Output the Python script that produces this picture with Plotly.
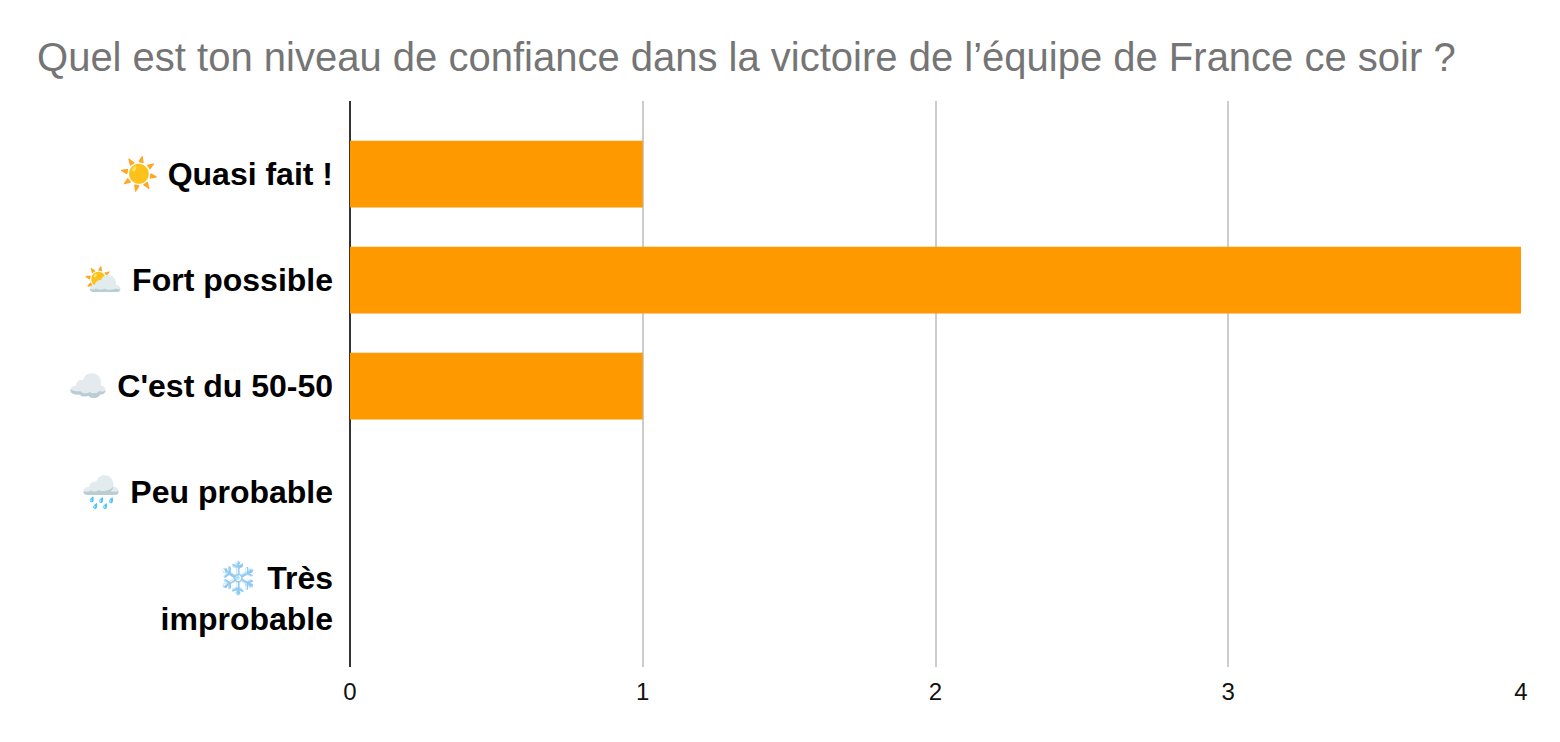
import plotly.graph_objects as go

# Réponses au sondage
categories = ["☀️ Quasi fait !", "⛅ Fort possible", "☁️ C'est du 50-50",
              "🌧️ Peu probable", "❄️ Très<br>improbable"]
votes = [1, 4, 1, 0, 0]
x_ticks = [0, 1, 2, 3, 4]

title = "Quel est ton niveau de confiance dans la victoire de l’équipe de France ce soir ?"

trace = go.Bar(x=votes, y=categories, orientation='h',
               marker=dict(color='#ff9900', line=dict(width=0)),
               hoverinfo='x+y')

# la page a une marge de 8px, on en tient compte dans les marges
layout = go.Layout(
    title=dict(text=title, x=0.0186, xref='container', xanchor='left',
               y=0.934, yref='container', yanchor='middle',
               font=dict(family='Liberation Sans, Arial', size=40, color='#757575')),
    width=1560, height=742,
    margin=dict(l=342, r=47, t=93, b=83),
    paper_bgcolor='white', plot_bgcolor='white',
    bargap=0.37,
    showlegend=False,
    font=dict(family='Liberation Sans, Arial'),
    xaxis=dict(range=[0, 4], tickvals=x_ticks, showgrid=True, gridcolor='#cccccc',
               gridwidth=1.5, zeroline=True, zerolinecolor='#333333', zerolinewidth=1.5,
               showline=False, ticks='', ticklabelstandoff=8,
               tickfont=dict(size=24, color='#111111')),
    yaxis=dict(categoryorder='array', categoryarray=categories,
               range=[4.65, -0.69], showgrid=False, zeroline=False,
               ticks='', ticklabelstandoff=16,
               tickfont=dict(size=32, color='#000000', family='Liberation Sans, Arial'),
               tickprefix='<b>', ticksuffix='</b>'),
)

fig = go.Figure(data=[trace], layout=layout)
fig.write_html("out.html")
